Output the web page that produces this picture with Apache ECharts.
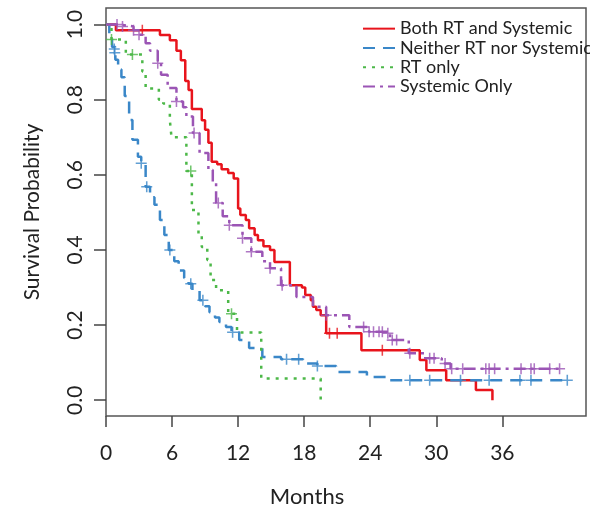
<!DOCTYPE html>
<html lang="en">
<head>
    <meta charset="UTF-8">
    <title>Survival</title>
    <script src="https://cdn.jsdelivr.net/npm/echarts@6/dist/echarts.min.js"></script>
    <style>
        *{margin:0;padding:0;}
        html,body{width:100%;height:100%;overflow:hidden;background:#fff;}
        .container{width:590px;height:514px;}
    </style>
</head>
<body>
<div class="container"></div>
<script>
    // step points (months, survival)
    let bothTime=[0,0.9,4.9,5.8,6.4,6.8,7.2,7.5,7.8,8.7,9.0,9.3,9.6,10.1,10.5,11.1,11.6,12.0,12.2,12.7,13.0,13.5,13.8,14.3,14.9,15.3,16.7,17.8,18.1,18.6,18.8,19.1,19.5,20.0,23.2,28.5,29.1,30.9,33.6,35.1];
    let bothSurv=[1.0,0.985,0.972,0.958,0.93,0.905,0.85,0.826,0.775,0.745,0.72,0.685,0.635,0.628,0.615,0.605,0.59,0.51,0.493,0.48,0.458,0.44,0.426,0.41,0.40,0.368,0.306,0.30,0.28,0.266,0.249,0.24,0.226,0.178,0.133,0.107,0.08,0.053,0.027,0.0];

    let neitherTime=[0,0.3,0.55,0.85,1.1,1.4,1.7,2.1,2.4,2.9,3.2,3.6,4.0,4.4,4.9,5.3,5.7,6.2,6.6,7.1,7.5,7.85,8.5,9.0,9.4,9.9,10.3,10.9,11.4,12.1,13.0,14.2,15.9,18.1,19.2,20.9,23.7,25.8,41.9];
    let neitherSurv=[1.0,0.97,0.94,0.906,0.88,0.86,0.81,0.746,0.693,0.648,0.631,0.568,0.54,0.52,0.48,0.44,0.40,0.37,0.345,0.325,0.31,0.293,0.266,0.25,0.234,0.22,0.208,0.195,0.181,0.16,0.139,0.115,0.109,0.098,0.091,0.075,0.062,0.053,0.053];

    let rtTime=[0,0.5,1.8,3.3,3.6,4.8,5.2,5.8,5.95,7.3,7.8,8.4,8.7,9.2,9.5,10.0,11.1,11.9,14.1,19.5];
    let rtSurv=[1.0,0.96,0.92,0.875,0.83,0.80,0.79,0.745,0.70,0.61,0.506,0.44,0.408,0.373,0.32,0.293,0.23,0.18,0.058,0.0];

    let sysTime=[0,1.2,2.5,3.0,3.6,4.0,4.7,5.0,5.6,6.4,7.0,7.3,7.9,8.5,9.3,9.7,10.0,10.6,11.2,12.4,13.2,14.2,14.9,15.9,17.3,18.8,20.0,22.1,23.9,25.8,27.5,29.0,30.5,31.3,41.2];
    let sysSurv=[1.0,0.995,0.985,0.973,0.95,0.93,0.897,0.866,0.831,0.795,0.78,0.755,0.711,0.658,0.613,0.578,0.525,0.49,0.466,0.431,0.395,0.37,0.351,0.306,0.275,0.249,0.226,0.195,0.182,0.16,0.125,0.112,0.098,0.084,0.084];

    // censoring marks
    let bothCensT=[3.3,20.3,21.0,25.1];
    let bothCensS=[0.985,0.178,0.178,0.133];
    let neitherCensT=[0.75,0.8,3.2,3.7,5.8,7.7,8.8,11.5,16.4,17.5,19.2,27.6,29.4,32.2,34.8,37.6,38.6,41.9];
    let neitherCensS=[0.935,0.925,0.631,0.568,0.40,0.31,0.266,0.181,0.109,0.109,0.091,0.053,0.053,0.053,0.053,0.053,0.053,0.053];
    let rtCensT=[0.5,2.4,7.7,11.4];
    let rtCensS=[0.96,0.92,0.61,0.23];
    let sysCensT=[1.0,1.5,2.5,3.0,4.7,6.4,8.0,10.2,11.2,12.4,13.2,14.9,16.0,20.0,23.4,23.9,24.3,24.8,25.1,25.6,26.0,26.4,27.6,29.4,29.8,30.8,31.4,32.4,34.5,34.8,35.3,37.7,38.6,38.9,40.3,41.2];
    let sysCensS=[1.0,0.995,0.985,0.973,0.897,0.795,0.711,0.525,0.466,0.431,0.395,0.351,0.306,0.226,0.195,0.182,0.182,0.182,0.182,0.178,0.16,0.16,0.125,0.112,0.112,0.098,0.084,0.084,0.084,0.084,0.084,0.084,0.084,0.084,0.084,0.084];

    let names=['Both RT and Systemic','Neither RT nor Systemic','RT only','Systemic Only'];
    let colors=['#e8141c','#3a87c8','#4cb848','#9b55b5'];
    let dashes=['solid',[12,8],[3,6],[12,5,3,5]];
    let xTicks=[0,6,12,18,24,30,36];
    let yTicks=[0,0.2,0.4,0.6,0.8,1.0];

    let curves=[[bothTime,bothSurv],[neitherTime,neitherSurv],[rtTime,rtSurv],[sysTime,sysSurv]];
    let cens=[[bothCensT,bothCensS],[neitherCensT,neitherCensS],[rtCensT,rtCensS],[sysCensT,sysCensS]];
    let pair=(t,s)=>t.map((v,i)=>[v,s[i]]);
    let plus='path://M0,4.3H10V5.7H0Z M4.3,0H5.7V10H4.3Z';
    let font='Lato';

    let series=[];
    curves.forEach((c,i)=>{
        series.push({
            name:names[i],
            type:'line',
            step:'end',
            symbol:'none',
            data:pair(c[0],c[1]),
            lineStyle:{color:colors[i],width:2.5,type:dashes[i]},
            itemStyle:{color:colors[i]},
            z:2+i
        });
    });
    cens.forEach((c,i)=>{
        series.push({
            name:names[i]+' censored',
            type:'scatter',
            symbol:plus,
            symbolSize:11,
            data:pair(c[0],c[1]),
            itemStyle:{color:colors[i]},
            z:2+i
        });
    });

    let mycharts=echarts.init(document.querySelector('.container'));
    mycharts.setOption({
        animation:false,
        grid:{left:106,right:4,top:8,bottom:98,show:true,borderColor:'#555',borderWidth:1.5,containLabel:false},
        legend:{
            orient:'vertical',
            left:362,
            top:19,
            padding:0,
            itemWidth:32,
            itemHeight:14,
            itemGap:0,
            data:names,
            itemStyle:{opacity:0},
            textStyle:{fontFamily:font,fontSize:18,color:'#222',lineHeight:19.3}
        },
        xAxis:{
            type:'value',min:0,max:43.6,
            axisLine:{show:false,onZero:false},
            axisTick:{show:true,length:11,lineStyle:{color:'#444',width:1.5},customValues:xTicks},
            axisLabel:{margin:27,fontFamily:font,fontSize:21,color:'#222',customValues:xTicks},
            splitLine:{show:false}
        },
        yAxis:{
            type:'value',min:-0.042,max:1.044,
            name:'Survival Probability',nameLocation:'middle',nameGap:63,
            nameTextStyle:{fontFamily:font,fontSize:21,color:'#222'},
            axisLine:{show:false,onZero:false},
            axisTick:{show:true,length:12,lineStyle:{color:'#444',width:1.5},customValues:yTicks},
            axisLabel:{margin:20,rotate:90,fontFamily:font,fontSize:21,color:'#222',customValues:yTicks,formatter:v=>v.toFixed(1)},
            splitLine:{show:false}
        },
        graphic:[{
            type:'text',x:307,y:497,
            style:{text:'Months',fontFamily:font,fontSize:22,fill:'#222',align:'center',verticalAlign:'middle'}
        }],
        series
    });
</script>
</body>
</html>
